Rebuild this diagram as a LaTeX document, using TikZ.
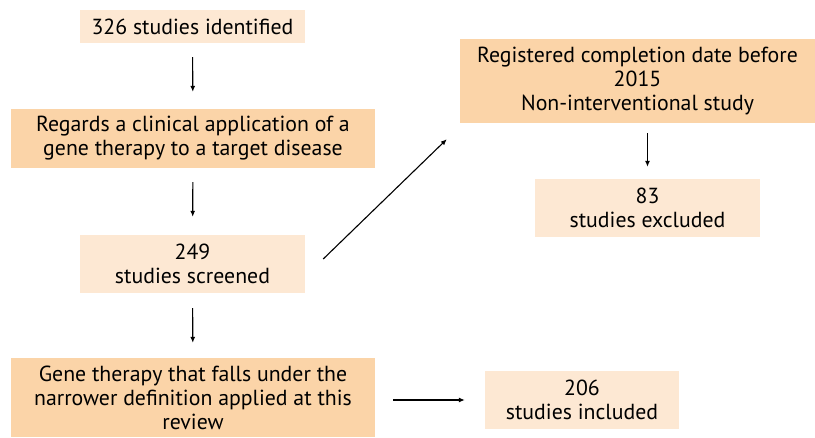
\documentclass[tikz,border=0pt]{standalone}
\usepackage{fontspec}
\setmainfont{PT Sans}
\usetikzlibrary{arrows.meta}
\definecolor{boxlight}{HTML}{FDE8D3}
\definecolor{boxdark}{HTML}{FBD4A8}

\begin{document}
\begin{tikzpicture}[x=1pt,y=-1pt,
                    stage/.style={fill=boxlight,align=center,inner sep=0pt,
                                  font=\fontsize{21.8}{24}\selectfont},
                    filter/.style={stage,fill=boxdark},
                    flow/.style={-{Latex[length=6pt,width=5pt]},line width=1.1pt}]
                    \useasboundingbox (0,0) rectangle (815,437);
                    % Left column
                    \draw (192.5,26.5) node[stage,minimum width=225pt,minimum height=33pt] (S1) {326 studies identified};
                    \draw (193,138.5) node[filter,minimum width=364pt,minimum height=59pt] (F1) {Regards a clinical application of a\\gene therapy to a target disease};
                    \draw (192.5,264) node[stage,minimum width=225pt,minimum height=58pt] (S2) {249\\studies screened};
                    \draw (193,397.5) node[filter,minimum width=364pt,minimum height=79pt] (F2) {Gene therapy that falls under the\\narrower definition applied at this\\review};
                    % Right column
                    \draw (637.5,81) node[filter,minimum width=355pt,minimum height=84pt] (F3) {Registered completion date before\\2015\\Non-interventional study};
                    \draw (647.5,208) node[stage,minimum width=225pt,minimum height=58pt] (S3) {83\\studies excluded};
                    \draw (582,400) node[stage,minimum width=194pt,minimum height=58pt] (S4) {206\\studies included};
                    % Links
                    \draw [flow,shorten <=14pt,shorten >=17pt] (S1)--(F1);
                    \draw [flow,shorten <=14pt,shorten >=18pt] (F1)--(S2);
                    \draw [flow,shorten <=15pt,shorten >=15pt] (S2)--(F2);
                    \draw [flow,shorten <=10pt,shorten >=12pt] (F3.south -| S3.north)--(S3.north);
                    \draw [flow] ([xshift=18pt]F2.east |- S4.west)--([xshift=-20pt]S4.west);
                    \draw [flow] ([xshift=18pt,yshift=5pt]S2.east)--([xshift=-13pt,yshift=-16pt]F3.south west);
                \end{tikzpicture}
\end{document}
